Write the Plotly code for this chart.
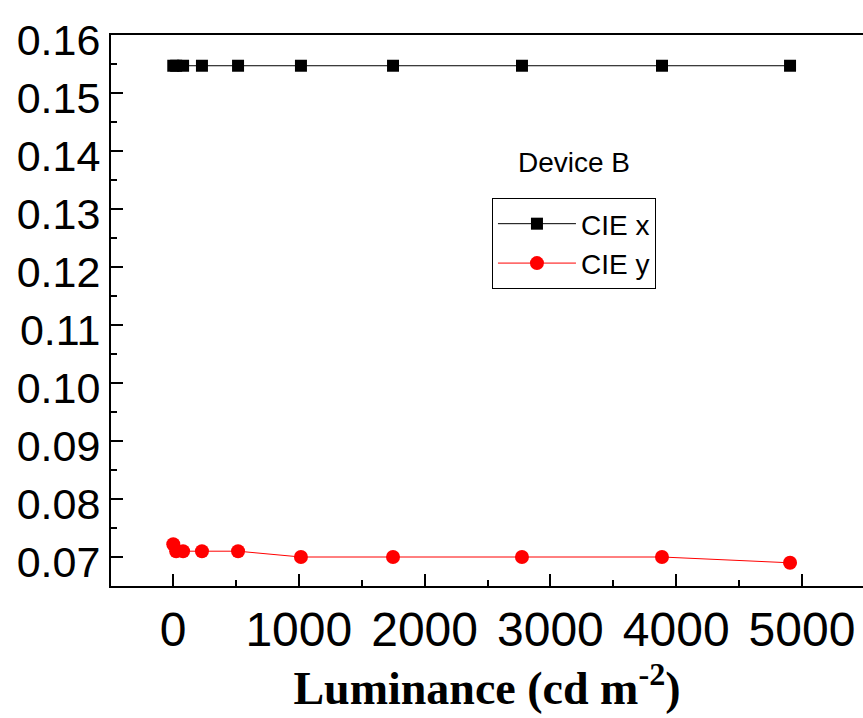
import plotly.graph_objects as go

luminance = [2, 25, 80, 230, 517, 1017, 1749, 2774, 3887, 4905]
cie_x = [0.1547, 0.1547, 0.1547, 0.1547, 0.1547, 0.1547, 0.1547, 0.1547, 0.1547, 0.1547]
cie_y = [0.0722, 0.0710, 0.0710, 0.0710, 0.0710, 0.0700, 0.0700, 0.0700, 0.0700, 0.0690]

fig = go.Figure()
fig.add_trace(go.Scatter(x=luminance, y=cie_x, mode="lines+markers", name="CIE x",
                         line=dict(color="black", width=1),
                         marker=dict(symbol="square", size=12, color="black")))
fig.add_trace(go.Scatter(x=luminance, y=cie_y, mode="lines+markers", name="CIE y",
                         line=dict(color="red", width=1),
                         marker=dict(symbol="circle", size=14, color="red")))

fig.update_layout(
    width=863, height=718,
    margin=dict(l=111, r=0, t=35, b=132),
    plot_bgcolor="white", paper_bgcolor="white",
    font=dict(family="Liberation Sans, Arial", color="black"),
    showlegend=True,
    legend=dict(x=0.5066, y=0.7042, xanchor="left", yanchor="top",
                bordercolor="black", borderwidth=1, bgcolor="white",
                font=dict(size=28, family="Liberation Sans, Arial"),
                itemwidth=78, tracegroupgap=0),
    annotations=[dict(text="Device B", x=0.6157, y=0.7677, xref="paper", yref="paper",
                      showarrow=False, xanchor="center", yanchor="middle",
                      font=dict(size=28, family="Liberation Sans, Arial"))],
)
fig.update_xaxes(range=[-493, 5485], showgrid=False, zeroline=False,
                 showline=True, linecolor="black", linewidth=2, mirror=True,
                 ticks="inside", ticklen=12, tickwidth=2, tickcolor="black",
                 dtick=1000, tick0=0,
                 minor=dict(ticks="inside", ticklen=6, dtick=500, tick0=0, tickcolor="black", tickwidth=2),
                 tickfont=dict(size=48, family="Liberation Sans, Arial"),
                 title=dict(text="Luminance (cd m<sup>-2</sup>)", standoff=16,
                            font=dict(size=46, family="Liberation Serif, Times New Roman", weight="bold")))
fig.update_yaxes(range=[0.065, 0.16], showgrid=False, zeroline=False,
                 showline=True, linecolor="black", linewidth=2, mirror=False,
                 ticks="inside", ticklen=12, tickwidth=2, tickcolor="black",
                 dtick=0.01, tick0=0, tickformat=".2f",
                 minor=dict(ticks="inside", ticklen=6, dtick=0.005, tick0=0, tickcolor="black", tickwidth=2),
                 tickfont=dict(size=43, family="Liberation Sans, Arial"),
                 ticklabelshift=5)

fig.write_html("out.html")
